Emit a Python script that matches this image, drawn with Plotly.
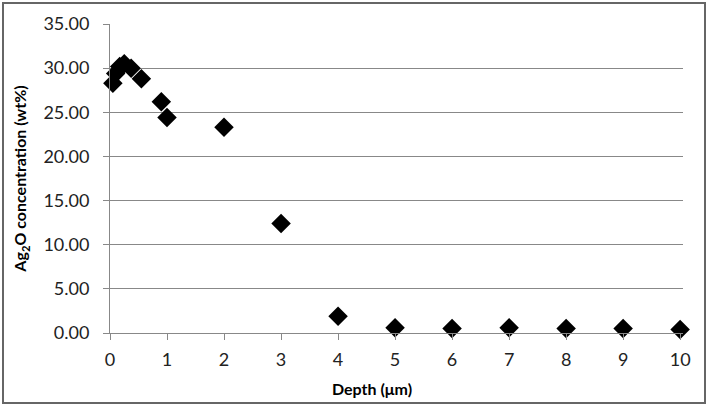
import plotly.graph_objects as go

depth = [0.05, 0.1, 0.17, 0.25, 0.37, 0.55, 0.9, 1.0, 2.0, 3.0, 4.0, 5.0, 6.0, 7.0, 8.0, 9.0, 10.0]
ag2o = [28.3, 29.4, 30.2, 30.5, 30.0, 28.8, 26.2, 24.4, 23.3, 12.4, 1.9, 0.6, 0.5, 0.6, 0.5, 0.5, 0.4]

W, H = 708, 406
L, R, T, B = 110, 25, 24, 73
pw, ph = W - L - R, H - T - B

fig = go.Figure(go.Scatter(
    x=depth, y=ag2o, mode="markers", cliponaxis=False,
    marker=dict(symbol="diamond", size=15, color="black"),
))

fig.update_layout(
    width=W, height=H,
    margin=dict(l=L, r=R, t=T, b=B),
    paper_bgcolor="white", plot_bgcolor="white",
    showlegend=False,
    font=dict(family="Lato", color="#222"),
    xaxis=dict(
        range=[0, 10.05], tickvals=list(range(11)), ticks="outside", ticklen=6,
        tickcolor="#888", showline=True, linecolor="#888", linewidth=1,
        showgrid=False, zeroline=False, tickfont=dict(size=18),
        ticklabelstandoff=4,
    ),
    yaxis=dict(
        range=[0, 35], tickvals=[0, 5, 10, 15, 20, 25, 30, 35], tickformat=".2f",
        ticks="outside", ticklen=6, tickcolor="#888",
        showline=True, linecolor="#888", linewidth=1,
        showgrid=True, gridcolor="#888", gridwidth=1, zeroline=False,
        tickfont=dict(size=18), ticklabelstandoff=10,
        title=dict(text="<b>Ag<sub>2</sub>O concentration (wt%)</b>", font=dict(size=16, color="black"), standoff=12),
    ),
    annotations=[dict(
        text="<b>Depth (μm)</b>", xref="paper", yref="paper",
        x=(372 - L) / pw, y=(H - B - 388) / ph, xanchor="center", yanchor="middle",
        showarrow=False, font=dict(size=16, color="black"),
    )],
    shapes=[dict(
        type="rect", xref="paper", yref="paper",
        x0=(3 - L) / pw, x1=(705 - L) / pw,
        y0=(H - B - 403) / ph, y1=(H - B - 3) / ph,
        line=dict(color="#666", width=2), fillcolor="rgba(0,0,0,0)", layer="below",
    )],
)

fig.write_html("out.html")
